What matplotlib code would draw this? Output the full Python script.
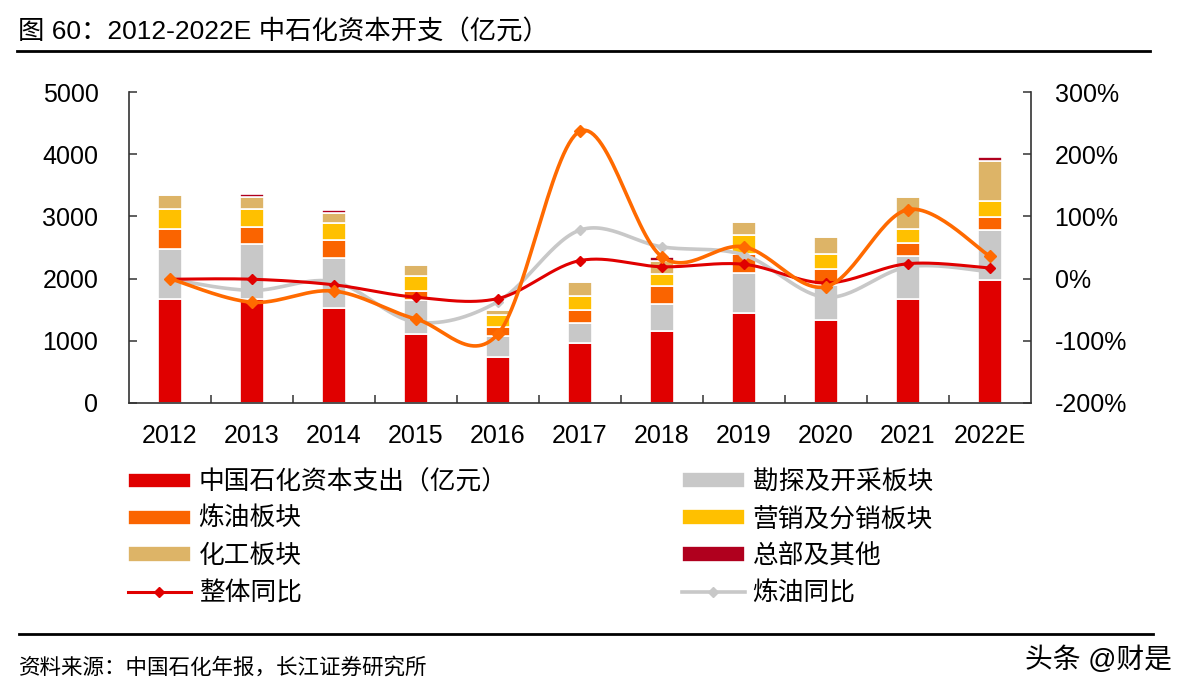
import numpy as np
import matplotlib
matplotlib.use("Agg")
import matplotlib.pyplot as plt
from matplotlib.lines import Line2D
from matplotlib.ticker import FuncFormatter

plt.rcParams['font.family'] = ['Liberation Sans', 'Noto Sans CJK SC', 'DejaVu Sans']

# data
years = ['2012', '2013', '2014', '2015', '2016', '2017', '2018', '2019', '2020', '2021', '2022E']
capex = [1680, 1667, 1534, 1116, 746, 971, 1158, 1453, 1341, 1678, 1972]      # 中国石化资本支出
explore = [790, 896, 797, 535, 326, 322, 434, 637, 562, 680, 815]            # 勘探及开采板块
refine = [327, 267, 290, 150, 150, 202, 284, 312, 247, 220, 203]             # 炼油板块
market = [327, 295, 279, 236, 188, 232, 204, 294, 252, 225, 252]             # 营销及分销板块
chem = [219, 193, 161, 177, 85, 219, 203, 214, 267, 515, 649]                # 化工板块
hq = [0, 48, 37, 0, 0, 0, 64, 0, 0, 0, 59]                                   # 总部及其他
total_yoy = [-1, -1, -10, -30, -32, 29, 19, 23, -7, 24, 17]                  # 整体同比 (%)
refine_yoy = [-1, -19, -5, -70, -37, 78, 51, 38, -30, 19, 11]                # 炼油同比 (%)
orange_yoy = [0, -38, -20, -65, -89, 237, 35, 51, -13, 111, 36]              # orange line, not in legend (%)

C_RED = '#E00000'
C_GRAY = '#C8C8C8'
C_ORANGE = '#FA6400'
C_YELLOW = '#FFC000'
C_TAN = '#DDB467'
C_DARK = '#B0001E'


def smooth(y, n=30):
    # excel-like smoothed line (catmull-rom through every point)
    x = np.arange(len(y), dtype=float)
    y = np.asarray(y, dtype=float)
    xs, ys = [], []
    t = np.linspace(0, 1, n, endpoint=False)
    for i in range(len(y) - 1):
        a = max(i - 1, 0)
        b = min(i + 2, len(y) - 1)
        c1x = x[i] + (x[i + 1] - x[a]) / 6
        c1y = y[i] + (y[i + 1] - y[a]) / 6
        c2x = x[i + 1] - (x[b] - x[i]) / 6
        c2y = y[i + 1] - (y[b] - y[i]) / 6
        for p0, p1, p2, p3, out in ((x[i], c1x, c2x, x[i + 1], xs), (y[i], c1y, c2y, y[i + 1], ys)):
            out.extend((1 - t) ** 3 * p0 + 3 * (1 - t) ** 2 * t * p1 + 3 * (1 - t) * t ** 2 * p2 + t ** 3 * p3)
    xs.append(x[-1])
    ys.append(y[-1])
    return np.array(xs), np.array(ys), list(range(0, len(xs), n))


W, H = 1193, 696
fig = plt.figure(figsize=(W / 100, H / 100), dpi=100)
ax = fig.add_axes([129 / W, 1 - 403 / H, (1031 - 129) / W, (403 - 92) / H])
ax2 = ax.twinx()

x = np.arange(len(years))
bw = 0.29
bottom = np.zeros(len(years))
handles = {}
for name, vals, col in (('capex', capex, C_RED), ('explore', explore, C_GRAY), ('refine', refine, C_ORANGE),
                        ('market', market, C_YELLOW), ('chem', chem, C_TAN), ('hq', hq, C_DARK)):
    handles[name] = ax.bar(x, vals, bw, bottom=bottom, color=col, edgecolor='white', linewidth=1.2)
    bottom += np.array(vals)

ax.set_xlim(-0.5, len(years) - 0.5)
ax.set_ylim(0, 5000)
ax.set_yticks(range(0, 5001, 1000))
ax.set_xticks(x)
ax.set_xticklabels(years)
ax.set_xticks(np.arange(0.5, len(years) - 1, 1), minor=True)
ax.tick_params(axis='x', which='major', length=0, pad=15, labelsize=18)
ax.tick_params(axis='x', which='minor', direction='in', length=6, width=1.1, color='#333333')
ax.tick_params(axis='y', direction='in', length=6, width=1.1, pad=22, labelsize=18, color='#333333')

gx, gy, gm = smooth(refine_yoy)
l_ref, = ax2.plot(gx, gy, color=C_GRAY, lw=2.6, marker='D', ms=5, markevery=gm)
rx, ry, rm = smooth(total_yoy)
l_tot, = ax2.plot(rx, ry, color=C_RED, lw=2.2, marker='D', ms=5, markevery=rm)
ox, oy, om = smooth(orange_yoy)
ax2.plot(ox, oy, color='#FF6A00', lw=2.6, marker='D', ms=6, markevery=om)

ax2.set_ylim(-200, 300)
ax2.set_yticks(range(-200, 301, 100))
ax2.yaxis.set_major_formatter(FuncFormatter(lambda v, p: '%d%%' % v))
ax2.tick_params(axis='y', direction='in', length=6, width=1.1, pad=17, labelsize=18, color='#333333')

for a in (ax, ax2):
    a.spines['top'].set_visible(False)
    for s in ('left', 'right', 'bottom'):
        a.spines[s].set_linewidth(1.2)
        a.spines[s].set_color('#333333')
ax.spines['right'].set_visible(False)
ax2.spines['left'].set_visible(False)
ax2.spines['bottom'].set_visible(False)

# legend, two columns
lkw = dict(loc='upper left', frameon=False, fontsize=18.5, handlelength=2.45, handleheight=0.55,
           handletextpad=0.3, labelspacing=0.5, borderpad=0, borderaxespad=0)
fig.legend([handles['capex'], handles['refine'], handles['chem'], l_tot],
           ['中国石化资本支出（亿元）', '炼油板块', '化工板块', '整体同比'],
           bbox_to_anchor=(128 / W, 1 - 470 / H), **lkw)
fig.legend([handles['explore'], handles['market'], handles['hq'], l_ref],
           ['勘探及开采板块', '营销及分销板块', '总部及其他', '炼油同比'],
           bbox_to_anchor=(682 / W, 1 - 470 / H), **lkw)

# title, rules, source
fig.text(18 / W, 1 - 32 / H, '图 60：2012-2022E 中石化资本开支（亿元）', fontsize=19, va='center', ha='left')
fig.add_artist(Line2D([17 / W, 1150 / W], [1 - 51 / H] * 2, transform=fig.transFigure, color='black', lw=2))
fig.add_artist(Line2D([19 / W, 1153 / W], [1 - 634 / H] * 2, transform=fig.transFigure, color='black', lw=2))
fig.text(19 / W, 1 - 668 / H, '资料来源：中国石化年报，长江证券研究所', fontsize=15.5, va='center', ha='left')
fig.text(1172 / W, 1 - 660 / H, '头条 @财是', fontsize=20, va='center', ha='right')

fig.savefig('out.png', dpi=100)
